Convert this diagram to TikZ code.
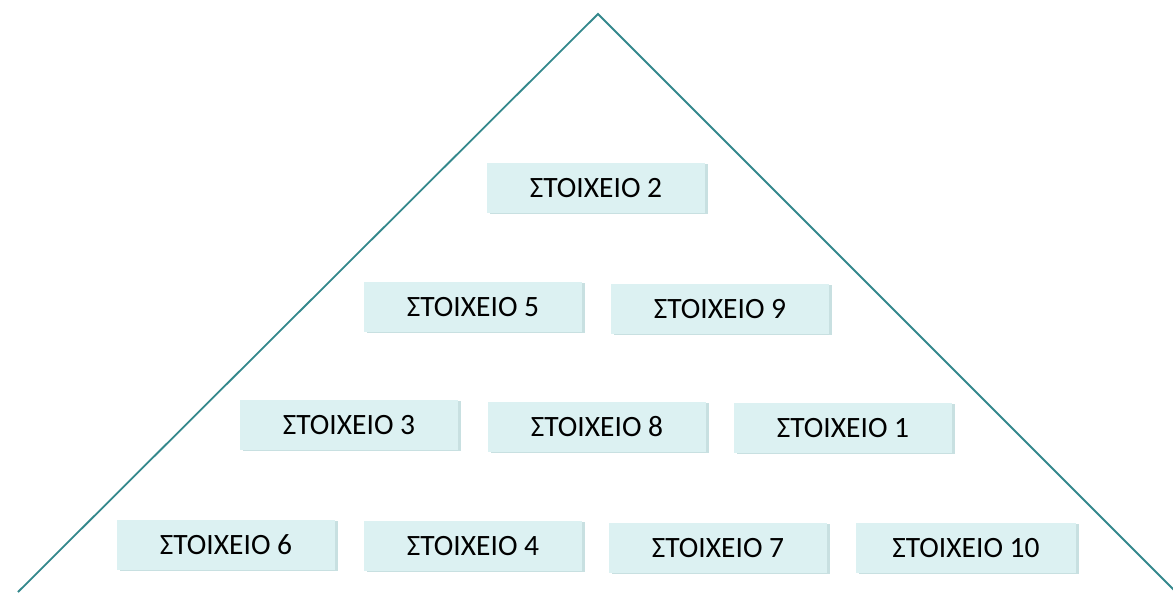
\documentclass[tikz,border=0pt]{standalone}
\usepackage{fontspec}
\setmainfont{Carlito}
\usetikzlibrary{shadows}
\definecolor{linec}{RGB}{52,136,140}
\definecolor{boxfill}{RGB}{220,241,242}
\definecolor{boxshade}{RGB}{200,224,225}
\tikzset{
  item/.style={fill=boxfill, minimum width=218pt, minimum height=50pt, inner sep=0pt,
    font=\fontsize{29.5}{33}\selectfont, text=black,
    general shadow={fill=boxshade, shadow xshift=3pt, shadow yshift=-1pt}},
  lowtext/.style={text depth=0pt, text height=16pt, yshift=0pt},
  edge/.style={draw=linec, line width=1.8pt}
}
\begin{document}
\begin{tikzpicture}[x=1pt,y=-1pt]
\useasboundingbox (0,0) rectangle (1173,592);
\coordinate (apex) at (598,14);
\coordinate (bl) at (18,592);
\coordinate (br) at (1180,596);
\draw[edge] (bl) -- (apex) -- (br);
\node[item] (s2) at (596,188) {ΣΤΟΙΧΕΙΟ 2};
\node[item] (s5) at (473,307) {ΣΤΟΙΧΕΙΟ 5};
\node[item] (s9) at (720,309) {ΣΤΟΙΧΕΙΟ 9};
\node[item] (s3) at (349,425) {ΣΤΟΙΧΕΙΟ 3};
\node[item] (s8) at (597,427) {ΣΤΟΙΧΕΙΟ 8};
\node[item] (s1) at (843,428) {ΣΤΟΙΧΕΙΟ 1};
\node[item] (s6) at (226,545) {ΣΤΟΙΧΕΙΟ 6};
\node[item] (s4) at (473,546) {ΣΤΟΙΧΕΙΟ 4};
\node[item] (s7) at (718,548) {ΣΤΟΙΧΕΙΟ 7};
\node[item,minimum width=220pt] (s10) at (966,548) {ΣΤΟΙΧΕΙΟ 10};
\end{tikzpicture}
\end{document}
